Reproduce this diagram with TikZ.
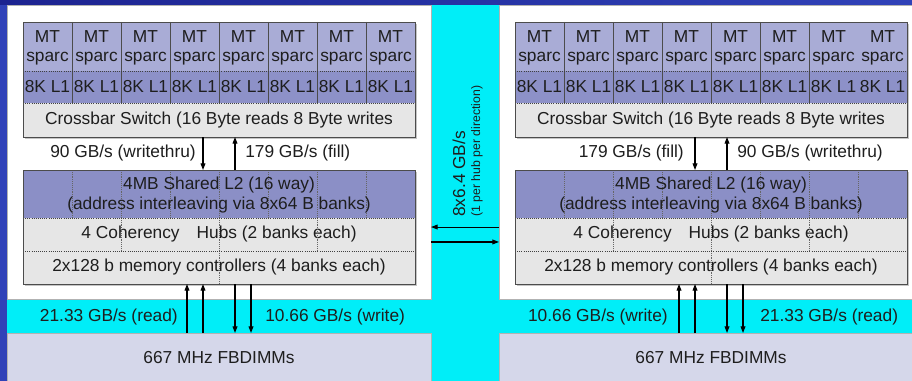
\documentclass[tikz,border=0pt]{standalone}
\usepackage{fontspec}
\setmainfont{Liberation Sans}
\usepackage{xcolor}
\definecolor{NIbg}{HTML}{00EEF8}
\definecolor{NIframe}{HTML}{3042B8}
\definecolor{NIframeDk}{HTML}{1C2390}
\definecolor{NIcore}{HTML}{A9ACD6}
\definecolor{NIlone}{HTML}{8D91C8}
\definecolor{NIltwo}{HTML}{8B8FC6}
\definecolor{NIgray}{HTML}{E6E6E6}
\definecolor{NIdimm}{HTML}{D5D7EA}
\definecolor{NItext}{HTML}{1E1E1E}
\usetikzlibrary{arrows.meta, shadows, positioning}

\begin{document}
\begin{tikzpicture}[x=0.75pt, y=-0.75pt]
\tikzset{
  txt/.style={font=\fontsize{13}{15}\selectfont, text=NItext},
  board/.style={rectangle, draw=gray!60, fill=white, inner sep=0pt, outer sep=0pt,
    line width=0.5pt, minimum width=318pt, txt},
  blk/.style={rectangle, draw=black!70, line width=0.6pt, inner sep=0pt, outer sep=0pt,
    minimum width=294pt, drop shadow={shadow xshift=1.5pt, shadow yshift=-1.5pt, opacity=0.45}},
  rowbox/.style={rectangle, inner sep=0pt, outer sep=0pt, minimum width=294pt, txt},
  cell/.style={inner sep=0pt, align=center, font=\fontsize{13}{14.3}\selectfont, text=NItext},
  lbl/.style={inner sep=0pt, txt},
  sep/.style={black!70, line width=0.5pt},
  dsep/.style={black!75, line width=0.6pt, densely dotted},
  bank/.style={black!60, line width=0.4pt, densely dotted},
  arr/.style={black, line width=0.8pt, -{Triangle[length=5pt, width=3.6pt]}}
}
% ── Background and frame ─────────────────────────────────────
\useasboundingbox (0,0) rectangle (912,381);
\clip (0,0) rectangle (912,381);
\fill[NIbg] (0,0) rectangle (912,381);
\fill[NIframe] (0,0) rectangle (7,381);
\shade[left color=NIframeDk, right color=NIframe] (0,0) rectangle (912,5);

% ── The two chips (left and right socket) ────────────────────
\foreach \ox/\c/\last in {0/L/7, 492/R/6}{
  % chip board and DIMMs
  \node[board, minimum height=220.5pt] (chip\c) at (\ox+219,152) {};
  \node[board, fill=NIdimm, minimum height=37.5pt] (dimm\c) at (\ox+219,358)
       {667 MHz FBDIMMs};

  % cores, L1s and crossbar
  \node[blk, fill=NIcore, minimum height=86.25pt] (cpu\c) at (\ox+219,79.5) {};
  \node[rowbox, fill=NIlone, minimum height=24pt] (lone\c) at (\ox+219,87) {};
  \node[rowbox, fill=NIgray, minimum height=25.5pt] (xbar\c) at (\ox+219,120)
       {Crossbar Switch (16 Byte reads 8 Byte writes};
  \foreach \k in {1,...,\last}
    \draw[sep] (\ox+23+49*\k,22) -- (\ox+23+49*\k,103);
  \draw[dsep] (lone\c.north west) -- (lone\c.north east);
  \draw[dsep] (xbar\c.north west) -- (xbar\c.north east);
  \draw[black!70, line width=0.6pt] (cpu\c.north west) rectangle (cpu\c.south east);
  \foreach \k in {0,...,7}{
    \node[cell] (mt\c\k) at (\ox+47.5+49*\k,47.5) {MT\\sparc};
    \node[cell] (lo\c\k) at (\ox+47.5+49*\k,87) {8K L1};
  }

  % shared L2, hubs, memory controllers
  \node[blk, fill=NIltwo, minimum height=85.5pt] (ltwo\c) at (\ox+219,227) {};
  \node[rowbox, fill=NIgray, minimum height=24.75pt] (hub\c) at (\ox+219,234.5)
       {4 Coherency\hspace{0.7em} Hubs (2 banks each)};
  \node[rowbox, fill=NIgray, minimum height=24.75pt] (mem\c) at (\ox+219,267.5)
       {2x128 b memory controllers (4 banks each)};
  \foreach \k in {1,...,7}
    \draw[bank] (\ox+23+49*\k,170) -- (\ox+23+49*\k,218);
  \foreach \k in {2,4,6}
    \draw[bank] (\ox+23+49*\k,218) -- (\ox+23+49*\k,251);
  \draw[bank] (\ox+219,251) -- (\ox+219,284);
  \draw[dsep] (hub\c.north west) -- (hub\c.north east);
  \draw[dsep] (mem\c.north west) -- (mem\c.north east);
  \draw[black!70, line width=0.6pt] (ltwo\c.north west) rectangle (ltwo\c.south east);
  \node[cell, font=\fontsize{13}{15}\selectfont] (ltwotxt\c) at (\ox+219,195)
       {4MB Shared L2 (16 way)\\(address interleaving via 8x64 B banks)};

  % crossbar <-> L2
  \draw[arr] ([xshift=-12pt]xbar\c.south) -- ([xshift=-12pt]ltwo\c.north);
  \draw[arr] ([xshift=12pt]ltwo\c.north) -- ([xshift=12pt]xbar\c.south);

  % memory controllers <-> DIMMs
  \draw[arr] ([xshift=-24pt]dimm\c.north) -- ([xshift=-24pt]mem\c.south);
  \draw[arr] ([xshift=-12pt]dimm\c.north) -- ([xshift=-12pt]mem\c.south);
  \draw[arr] ([xshift=12pt]mem\c.south) -- ([xshift=12pt]dimm\c.north);
  \draw[arr] ([xshift=24pt]mem\c.south) -- ([xshift=24pt]dimm\c.north);
}

% ── Bandwidth labels ─────────────────────────────────────────
\node[lbl, anchor=east] (bwLa) at (196,153) {90 GB/s (writethru)};
\node[lbl, anchor=west] (bwLb) at (245,153) {179 GB/s (fill)};
\node[lbl, anchor=east] (bwRa) at (684,153) {179 GB/s (fill)};
\node[lbl, anchor=west] (bwRb) at (737,153) {90 GB/s (writethru)};
\node[lbl, anchor=east] (mbLa) at (178,317) {21.33 GB/s (read)};
\node[lbl, anchor=west] (mbLb) at (265,317) {10.66 GB/s (write)};
\node[lbl, anchor=east] (mbRa) at (668,317) {10.66 GB/s (write)};
\node[lbl, anchor=west] (mbRb) at (760,317) {21.33 GB/s (read)};

% ── Coherency link between the chips ─────────────────────────
\coordinate (lnkup) at ([yshift=5.6pt]hubL.east);
\coordinate (lnkdn) at ([yshift=-5.6pt]hubL.east);
\draw[arr] (chipR.west |- lnkup) -- (chipL.east |- lnkup);
\draw[arr] (chipL.east |- lnkdn) -- (chipR.west |- lnkdn);
\node[lbl, rotate=90, anchor=west] (lnkbw) at (459,217) {8x6.4 GB/s};
\node[lbl, rotate=90, anchor=west, font=\fontsize{9.2}{11}\selectfont] (lnknote)
     at (477,217) {(1 per hub per direction)};
\end{tikzpicture}
\end{document}
